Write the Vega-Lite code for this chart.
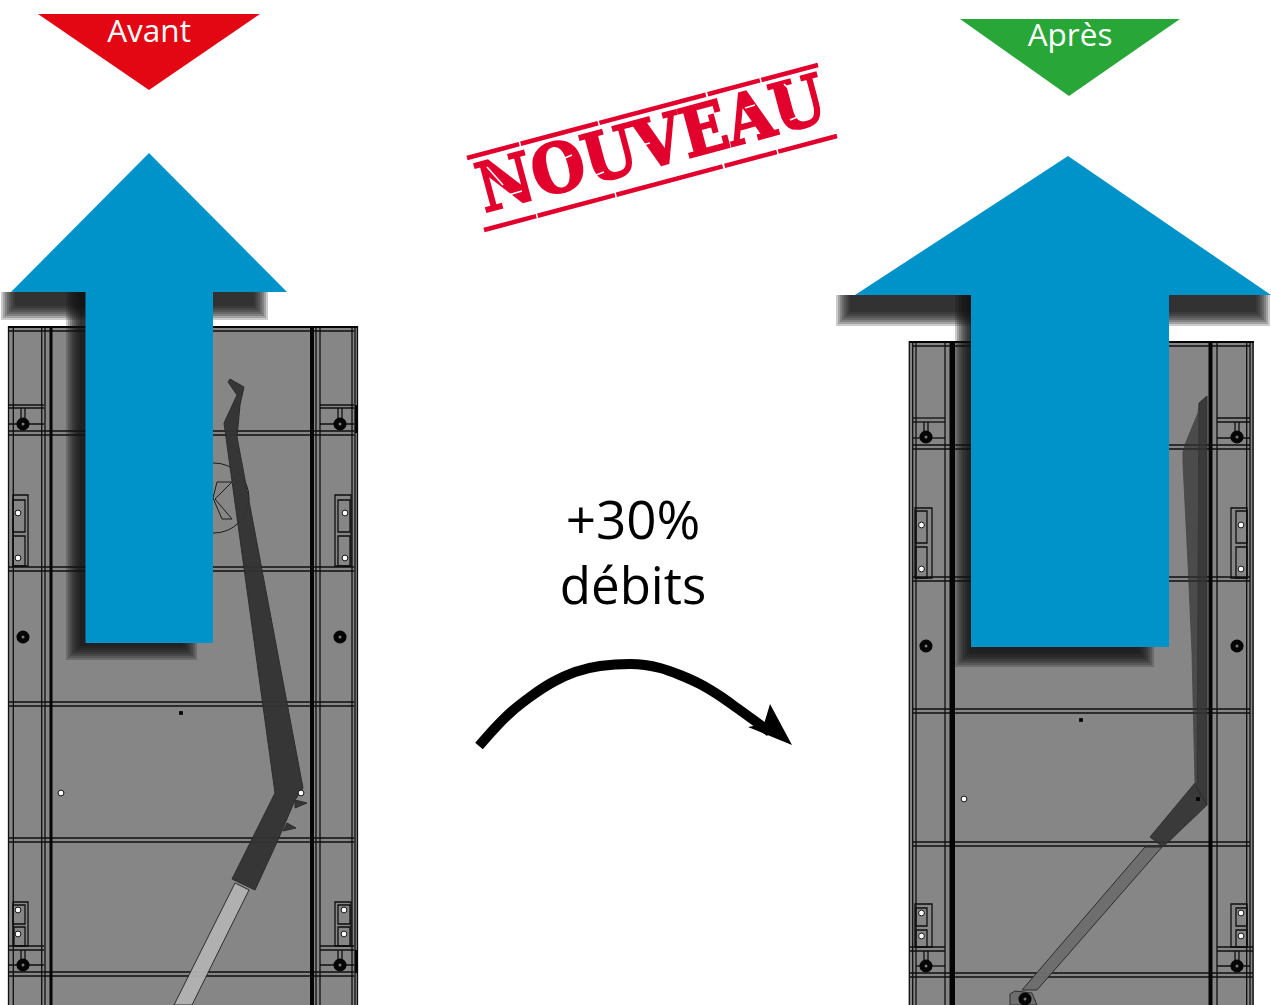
{
"$schema":"https://vega.github.io/schema/vega-lite/v6.json",
"width":1271,"height":1005,"padding":0,"autosize":{"type":"none"},"background":"#ffffff",
"config":{"view":{"stroke":null},"axis":{"domain":false,"ticks":false,"labels":false,"grid":false,"title":null}},
"datasets":{
"panels":[{"part":"panel","x":8,"x2":358,"y":326,"y2":1005},{"part":"panel","x":909,"x2":1254,"y":341,"y2":1005}],
"thick":[
{"x":49.5,"x2":52.5,"y":326,"y2":1005},{"x":310,"x2":314,"y":326,"y2":1005},
{"x":8,"x2":358,"y":326,"y2":328},{"x":355,"x2":358,"y":405,"y2":433},{"x":355,"x2":358,"y":950,"y2":973},
{"x":949.5,"x2":955,"y":341,"y2":1005},{"x":1208.5,"x2":1212.5,"y":341,"y2":1005},
{"x":909,"x2":1254,"y":341,"y2":343}],
"thin":[
{"x":8.5,"x2":8.5,"y":326,"y2":1005},{"x":13.3,"x2":13.3,"y":326,"y2":1005},{"x":41.7,"x2":41.7,"y":326,"y2":1005},{"x":45,"x2":45,"y":326,"y2":1005},{"x":316,"x2":316,"y":326,"y2":1005},{"x":320,"x2":320,"y":326,"y2":1005},{"x":352,"x2":352,"y":326,"y2":1005},{"x":355,"x2":355,"y":326,"y2":1005},{"x":357.5,"x2":357.5,"y":326,"y2":1005},
{"x":8,"x2":354,"y":331,"y2":331},
{"x":8,"x2":354,"y":431,"y2":431},{"x":8,"x2":354,"y":435,"y2":435},
{"x":8,"x2":354,"y":567,"y2":567},{"x":8,"x2":354,"y":571,"y2":571},
{"x":8,"x2":354,"y":702,"y2":702},{"x":8,"x2":354,"y":706,"y2":706},
{"x":8,"x2":354,"y":838,"y2":838},{"x":8,"x2":354,"y":842,"y2":842},
{"x":8,"x2":354,"y":972,"y2":972},{"x":8,"x2":354,"y":976,"y2":976},
{"x":8,"x2":44,"y":405,"y2":405},{"x":8,"x2":44,"y":408,"y2":408},{"x":320,"x2":354,"y":405,"y2":405},{"x":320,"x2":354,"y":408,"y2":408},
{"x":21,"x2":21,"y":408,"y2":424},{"x":25,"x2":25,"y":408,"y2":424},{"x":338,"x2":338,"y":408,"y2":424},{"x":342,"x2":342,"y":408,"y2":424},
{"x":8,"x2":44,"y":424,"y2":424},{"x":320,"x2":354,"y":424,"y2":424},
{"x":8,"x2":44,"y":946,"y2":946},{"x":8,"x2":44,"y":950,"y2":950},{"x":320,"x2":354,"y":946,"y2":946},{"x":320,"x2":354,"y":950,"y2":950},
{"x":21,"x2":21,"y":950,"y2":965},{"x":25,"x2":25,"y":950,"y2":965},{"x":338,"x2":338,"y":950,"y2":965},{"x":342,"x2":342,"y":950,"y2":965},
{"x":8,"x2":44,"y":965,"y2":965},{"x":320,"x2":354,"y":965,"y2":965},
{"x":909.3,"x2":909.3,"y":341,"y2":1005},{"x":912.7,"x2":912.7,"y":341,"y2":1005},{"x":916,"x2":916,"y":341,"y2":1005},{"x":945,"x2":945,"y":341,"y2":1005},{"x":1217,"x2":1217,"y":341,"y2":1005},{"x":1246.7,"x2":1246.7,"y":341,"y2":1005},{"x":1250,"x2":1250,"y":341,"y2":1005},{"x":1253,"x2":1253,"y":341,"y2":1005},
{"x":913,"x2":1250,"y":346,"y2":346},
{"x":913,"x2":1250,"y":445,"y2":445},{"x":913,"x2":1250,"y":449,"y2":449},
{"x":913,"x2":1250,"y":577,"y2":577},{"x":913,"x2":1250,"y":581,"y2":581},
{"x":913,"x2":1250,"y":709,"y2":709},{"x":913,"x2":1250,"y":713,"y2":713},
{"x":913,"x2":1250,"y":842,"y2":842},{"x":913,"x2":1250,"y":846,"y2":846},
{"x":910,"x2":1253,"y":973,"y2":973},{"x":910,"x2":1253,"y":977,"y2":977},
{"x":913,"x2":945,"y":418,"y2":418},{"x":913,"x2":945,"y":422,"y2":422},{"x":1217,"x2":1250,"y":418,"y2":418},{"x":1217,"x2":1250,"y":422,"y2":422},
{"x":924,"x2":924,"y":422,"y2":437},{"x":928,"x2":928,"y":422,"y2":437},{"x":1235,"x2":1235,"y":422,"y2":437},{"x":1239,"x2":1239,"y":422,"y2":437},
{"x":913,"x2":945,"y":438,"y2":438},{"x":1217,"x2":1250,"y":438,"y2":438},
{"x":910,"x2":945,"y":947,"y2":947},{"x":910,"x2":945,"y":951,"y2":951},{"x":1217,"x2":1253,"y":947,"y2":947},{"x":1217,"x2":1253,"y":951,"y2":951},
{"x":924,"x2":924,"y":951,"y2":966},{"x":928,"x2":928,"y":951,"y2":966},{"x":1235,"x2":1235,"y":951,"y2":966},{"x":1239,"x2":1239,"y":951,"y2":966},
{"x":916,"x2":945,"y":966,"y2":966},{"x":1217,"x2":1250,"y":966,"y2":966}],
"boxes":[
{"x":13,"x2":28,"y":495,"y2":566},{"x":13,"x2":25,"y":500,"y2":532},{"x":13,"x2":25,"y":536,"y2":566},
{"x":335,"x2":351,"y":495,"y2":566},{"x":338,"x2":350,"y":500,"y2":532},{"x":338,"x2":350,"y":536,"y2":566},
{"x":13,"x2":28,"y":902,"y2":946},{"x":13,"x2":25,"y":905,"y2":924},{"x":14,"x2":25,"y":927,"y2":946},
{"x":335,"x2":351,"y":902,"y2":946},{"x":338,"x2":350,"y":905,"y2":924},{"x":338,"x2":350,"y":927,"y2":946},
{"x":915,"x2":932,"y":508,"y2":578},{"x":916,"x2":927,"y":511,"y2":543},{"x":916,"x2":927,"y":547,"y2":578},
{"x":1231,"x2":1247,"y":508,"y2":578},{"x":1236,"x2":1247,"y":511,"y2":543},{"x":1236,"x2":1247,"y":547,"y2":578},
{"x":915,"x2":932,"y":904,"y2":947},{"x":916,"x2":927,"y":908,"y2":926},{"x":916,"x2":927,"y":930,"y2":947},
{"x":1231,"x2":1247,"y":904,"y2":947},{"x":1236,"x2":1247,"y":908,"y2":926},{"x":1236,"x2":1247,"y":930,"y2":947}],
"struts":[
{"s":"a","p":"strut","i":1,"x":228,"y":382},{"s":"a","p":"strut","i":2,"x":230,"y":379},{"s":"a","p":"strut","i":3,"x":244,"y":387},{"s":"a","p":"strut","i":4,"x":240,"y":405},{"s":"a","p":"strut","i":5,"x":237,"y":437},{"s":"a","p":"strut","i":9,"x":303,"y":788},{"s":"a","p":"strut","i":10,"x":295,"y":800},{"s":"a","p":"strut","i":11,"x":278,"y":840},{"s":"a","p":"strut","i":12,"x":255,"y":890},{"s":"a","p":"strut","i":13,"x":232,"y":879},{"s":"a","p":"strut","i":14,"x":275,"y":793},{"s":"a","p":"strut","i":18,"x":224,"y":423},{"s":"a","p":"strut","i":19,"x":237,"y":395},
{"s":"b","p":"strut","i":1,"x":295,"y":800},{"s":"b","p":"strut","i":2,"x":307,"y":803},{"s":"b","p":"strut","i":3,"x":295,"y":808},
{"s":"c","p":"strut","i":1,"x":287,"y":823},{"s":"c","p":"strut","i":2,"x":296,"y":828},{"s":"c","p":"strut","i":3,"x":283,"y":831},
{"s":"d","p":"rodlight","i":1,"x":235,"y":883},{"s":"d","p":"rodlight","i":2,"x":249,"y":890},{"s":"d","p":"rodlight","i":3,"x":192,"y":1005},{"s":"d","p":"rodlight","i":4,"x":174,"y":1005},
{"s":"f","p":"rodgrey","i":1,"x":1010,"y":1005},{"s":"f","p":"rodgrey","i":2,"x":1010,"y":994},{"s":"f","p":"rodgrey","i":3,"x":1015,"y":991},{"s":"f","p":"rodgrey","i":4,"x":1032,"y":993},{"s":"f","p":"rodgrey","i":5,"x":1037,"y":1005},
{"s":"e","p":"rodgrey","i":1,"x":1145,"y":847},{"s":"e","p":"rodgrey","i":2,"x":1162,"y":847},{"s":"e","p":"rodgrey","i":3,"x":1037,"y":990},{"s":"e","p":"rodgrey","i":4,"x":1022,"y":990}
],
"strutGhost":[
{"s":"g","p":"strut","i":1,"x":1207,"y":396},{"s":"g","p":"strut","i":2,"x":1207,"y":805},{"s":"g","p":"strut","i":3,"x":1163,"y":847},{"s":"g","p":"strut","i":4,"x":1150,"y":837},{"s":"g","p":"strut","i":5,"x":1195,"y":783},{"s":"g","p":"strut","i":6,"x":1192,"y":653},{"s":"g","p":"strut","i":8,"x":1188,"y":563},{"s":"g","p":"strut","i":9,"x":1183,"y":463},{"s":"g","p":"strut","i":10,"x":1183,"y":452},{"s":"g","p":"strut","i":11,"x":1186,"y":442},{"s":"g","p":"strut","i":12,"x":1198,"y":413},{"s":"g","p":"strut","i":13,"x":1199,"y":403},
{"s":"h","p":"strut","i":1,"x":1199,"y":403},{"s":"h","p":"strut","i":2,"x":1207,"y":396},{"s":"h","p":"strut","i":3,"x":1207,"y":805},{"s":"h","p":"strut","i":4,"x":1197,"y":790},
{"s":"j","p":"strut","i":1,"x":1195,"y":783},{"s":"j","p":"strut","i":2,"x":1207,"y":805},{"s":"j","p":"strut","i":3,"x":1163,"y":847},{"s":"j","p":"strut","i":4,"x":1150,"y":837}
],
"chevron":[{"i":1,"x":232,"y":482},{"i":2,"x":217,"y":482},{"i":3,"x":213,"y":498},{"i":4,"x":222,"y":519},{"i":5,"x":232,"y":519},{"i":6,"x":215,"y":499},{"i":7,"x":232,"y":482}],
"logoRing":[{"x":214,"y":498}],
"bolts":[{"x":23,"y":424},{"x":340,"y":424},{"x":23,"y":637},{"x":340,"y":637},{"x":23,"y":965},{"x":340,"y":965},{"x":926,"y":437},{"x":1237,"y":437},{"x":926,"y":646},{"x":1237,"y":646},{"x":926,"y":966},{"x":1237,"y":966},{"x":1025,"y":999}],
"holes":[{"x":18,"y":513},{"x":18,"y":558},{"x":345,"y":513},{"x":345,"y":558},{"x":18,"y":910},{"x":18,"y":934},{"x":344,"y":910},{"x":344,"y":934},{"x":61,"y":793},{"x":301,"y":793},{"x":921.5,"y":525},{"x":921.5,"y":569},{"x":1241,"y":525},{"x":1241,"y":569},{"x":921.5,"y":913},{"x":921.5,"y":936},{"x":1241,"y":913},{"x":1241,"y":936},{"x":964,"y":799}],
"pins":[{"x":181,"y":713},{"x":1081,"y":720},{"x":1198,"y":799}],
"shadow":[
{"x":66,"x2":197,"y":292,"y2":660},{"x":68,"x2":195,"y":292,"y2":658},{"x":70,"x2":193,"y":292,"y2":656},{"x":72,"x2":191,"y":292,"y2":654},{"x":74,"x2":189,"y":292,"y2":652},{"x":76,"x2":187,"y":292,"y2":650},{"x":78,"x2":185,"y":292,"y2":648},{"x":80,"x2":183,"y":292,"y2":646},
{"x":1,"x2":268,"y":292,"y2":320},{"x":3,"x2":266,"y":292,"y2":318},{"x":5,"x2":264,"y":292,"y2":316},{"x":7,"x2":262,"y":292,"y2":314},{"x":9,"x2":260,"y":292,"y2":312},{"x":11,"x2":258,"y":292,"y2":310},{"x":13,"x2":256,"y":292,"y2":308},{"x":15,"x2":254,"y":292,"y2":306},
{"x":955,"x2":1154,"y":295,"y2":667},{"x":957,"x2":1152,"y":295,"y2":665},{"x":959,"x2":1150,"y":295,"y2":663},{"x":961,"x2":1148,"y":295,"y2":661},{"x":963,"x2":1146,"y":295,"y2":659},{"x":965,"x2":1144,"y":295,"y2":657},{"x":967,"x2":1142,"y":295,"y2":655},{"x":969,"x2":1140,"y":295,"y2":653},
{"x":836,"x2":1270,"y":295,"y2":326},{"x":838,"x2":1268,"y":295,"y2":324},{"x":840,"x2":1266,"y":295,"y2":322},{"x":842,"x2":1264,"y":295,"y2":320},{"x":844,"x2":1262,"y":295,"y2":318},{"x":846,"x2":1260,"y":295,"y2":316},{"x":848,"x2":1258,"y":295,"y2":314},{"x":850,"x2":1256,"y":295,"y2":312}],
"top":[
{"s":"A","p":"arrow","i":1,"x":149,"y":153},{"s":"A","p":"arrow","i":2,"x":287,"y":292},{"s":"A","p":"arrow","i":3,"x":213,"y":292},{"s":"A","p":"arrow","i":4,"x":213,"y":643},{"s":"A","p":"arrow","i":5,"x":85.5,"y":643},{"s":"A","p":"arrow","i":6,"x":85.5,"y":292},{"s":"A","p":"arrow","i":7,"x":11,"y":292},
{"s":"B","p":"arrow","i":1,"x":1068,"y":156},{"s":"B","p":"arrow","i":2,"x":1271,"y":295},{"s":"B","p":"arrow","i":3,"x":1169,"y":295},{"s":"B","p":"arrow","i":4,"x":1169,"y":647},{"s":"B","p":"arrow","i":5,"x":971,"y":647},{"s":"B","p":"arrow","i":6,"x":971,"y":295},{"s":"B","p":"arrow","i":7,"x":855,"y":295},
{"s":"C","p":"red","i":1,"x":38,"y":14},{"s":"C","p":"red","i":2,"x":260,"y":14},{"s":"C","p":"red","i":3,"x":149,"y":90},
{"s":"D","p":"green","i":1,"x":960,"y":19},{"s":"D","p":"green","i":2,"x":1180,"y":19},{"s":"D","p":"green","i":3,"x":1069,"y":96},
{"s":"E","p":"black","i":1,"x":792,"y":745},{"s":"E","p":"black","i":2,"x":748,"y":727},{"s":"E","p":"black","i":3,"x":764,"y":724},{"s":"E","p":"black","i":4,"x":770,"y":704}],
"curve":[{"i":1,"x":479,"y":746},{"i":2,"x":495,"y":728},{"i":3,"x":510,"y":713},{"i":4,"x":530,"y":697},{"i":5,"x":553,"y":682},{"i":6,"x":575,"y":672},{"i":7,"x":600,"y":666},{"i":8,"x":630,"y":664},{"i":9,"x":660,"y":668},{"i":10,"x":680,"y":675},{"i":11,"x":700,"y":684},{"i":12,"x":720,"y":696},{"i":13,"x":737,"y":708},{"i":14,"x":755,"y":721},{"i":15,"x":770,"y":732}],
"stampLines":[{"x":467,"y":158,"x2":818,"y2":65},{"x":484,"y":230,"x2":837,"y2":136}],
"stampText":[{"label":"NOUVEAU","x":652,"y":147}],
"cracks":[{"x":487,"y":167,"x2":503,"y2":185},{"x":505,"y":196,"x2":522,"y2":191},{"x":560,"y":160,"x2":572,"y2":155},{"x":588,"y":178,"x2":604,"y2":172},{"x":638,"y":146,"x2":650,"y2":143},{"x":674,"y":127,"x2":690,"y2":142},{"x":745,"y":108,"x2":755,"y2":105},{"x":790,"y":120,"x2":800,"y2":116},{"x":784,"y":84,"x2":792,"y2":92}],
"white":[{"label":"Avant","x":149,"y":42},{"label":"Après","x":1070,"y":46}],
"bigA":[{"label":"+30%","x":633,"y":539}],
"bigB":[{"label":"débits","x":633,"y":604}]
},
"encoding":{
"x":{"field":"x","type":"quantitative","scale":{"domain":[0,1271],"nice":false,"zero":false},"axis":null},
"y":{"field":"y","type":"quantitative","scale":{"domain":[1005,0],"nice":false,"zero":false},"axis":null}
},
"layer":[
{"data":{"name":"panels"},"mark":{"type":"rect","fill":"#868686"},"encoding":{"x2":{"field":"x2"},"y2":{"field":"y2"}}},
{"data":{"name":"thin"},"mark":{"type":"rule","stroke":"#0e0e0e","strokeWidth":1.3},"encoding":{"x2":{"field":"x2"},"y2":{"field":"y2"}}},
{"data":{"name":"thick"},"mark":{"type":"rect","fill":"#050505"},"encoding":{"x2":{"field":"x2"},"y2":{"field":"y2"}}},
{"data":{"name":"boxes"},"mark":{"type":"rect","fill":"transparent","stroke":"#0e0e0e","strokeWidth":1.3},"encoding":{"x2":{"field":"x2"},"y2":{"field":"y2"}}},
{"data":{"name":"logoRing"},"mark":{"type":"point","shape":"circle","filled":false,"size":4900,"stroke":"#1c1c1c","strokeWidth":1,"opacity":1}},
{"data":{"name":"chevron"},"mark":{"type":"line","stroke":"#1c1c1c","strokeWidth":1},"encoding":{"order":{"field":"i"}}},
{"data":{"name":"struts"},"mark":{"type":"line","interpolate":"linear-closed","stroke":"#2a2a2a","strokeWidth":1,"opacity":0.96},"encoding":{"detail":{"field":"s"},"order":{"field":"i"},"fill":{"field":"p","legend":null,"scale":{"domain":["strut","rodlight","rodgrey","arrow","red","green","black"],"range":["#333333","#b2b2b2","#6e6e6e","#0093c9","#e30613","#29a638","#000000"]}}}},
{"data":{"name":"strutGhost"},"mark":{"type":"line","interpolate":"linear-closed","stroke":"#2a2a2a","strokeWidth":0.8,"opacity":0.7},"encoding":{"detail":{"field":"s"},"order":{"field":"i"},"fill":{"field":"p","legend":null,"scale":{"domain":["strut","rodlight","rodgrey","arrow","red","green","black"],"range":["#333333","#b2b2b2","#6e6e6e","#0093c9","#e30613","#29a638","#000000"]}}}},
{"data":{"name":"bolts"},"mark":{"type":"point","shape":"circle","filled":true,"fill":"#050505","stroke":null,"size":170,"opacity":1}},
{"data":{"name":"bolts"},"mark":{"type":"point","shape":"circle","filled":true,"fill":"#777777","stroke":null,"size":9,"opacity":1}},
{"data":{"name":"holes"},"mark":{"type":"point","shape":"circle","filled":true,"fill":"#ffffff","stroke":"#111111","strokeWidth":1,"size":34,"opacity":1}},
{"data":{"name":"pins"},"mark":{"type":"point","shape":"square","filled":true,"fill":"#000000","stroke":null,"size":14,"opacity":1}},
{"data":{"name":"shadow"},"mark":{"type":"rect","fill":"#111111","opacity":0.22},"encoding":{"x2":{"field":"x2"},"y2":{"field":"y2"}}},
{"data":{"name":"top"},"mark":{"type":"line","interpolate":"linear-closed","stroke":"transparent","strokeWidth":0,"opacity":1},"encoding":{"detail":{"field":"s"},"order":{"field":"i"},"fill":{"field":"p","legend":null,"scale":{"domain":["strut","rodlight","rodgrey","arrow","red","green","black"],"range":["#333333","#b2b2b2","#6e6e6e","#0093c9","#e30613","#29a638","#000000"]}}}},
{"data":{"name":"curve"},"mark":{"type":"line","interpolate":"monotone","stroke":"#000000","strokeWidth":10},"encoding":{"order":{"field":"i"}}},
{"data":{"name":"stampLines"},"mark":{"type":"rule","stroke":"#e2012d","strokeWidth":4.5,"strokeDash":[54,1.5,80,1.5,110,2]},"encoding":{"x2":{"field":"x2"},"y2":{"field":"y2"}}},
{"data":{"name":"stampText"},"mark":{"type":"text","font":"DejaVu Serif Condensed","fontWeight":"bold","fontSize":68,"angle":345,"align":"center","baseline":"middle","fill":"#e2012d","stroke":"#e2012d","strokeWidth":2},"encoding":{"text":{"field":"label"}}},
{"data":{"name":"cracks"},"mark":{"type":"rule","stroke":"#ffffff","strokeWidth":1.6},"encoding":{"x2":{"field":"x2"},"y2":{"field":"y2"}}},
{"data":{"name":"white"},"mark":{"type":"text","font":"Open Sans","fontSize":31.5,"align":"center","baseline":"alphabetic","fill":"#ffffff"},"encoding":{"text":{"field":"label"}}},
{"data":{"name":"bigA"},"mark":{"type":"text","font":"Open Sans","fontSize":53,"align":"center","baseline":"alphabetic","fill":"#000000"},"encoding":{"text":{"field":"label"}}},
{"data":{"name":"bigB"},"mark":{"type":"text","font":"Open Sans","fontSize":51,"align":"center","baseline":"alphabetic","fill":"#000000"},"encoding":{"text":{"field":"label"}}}
]
}
